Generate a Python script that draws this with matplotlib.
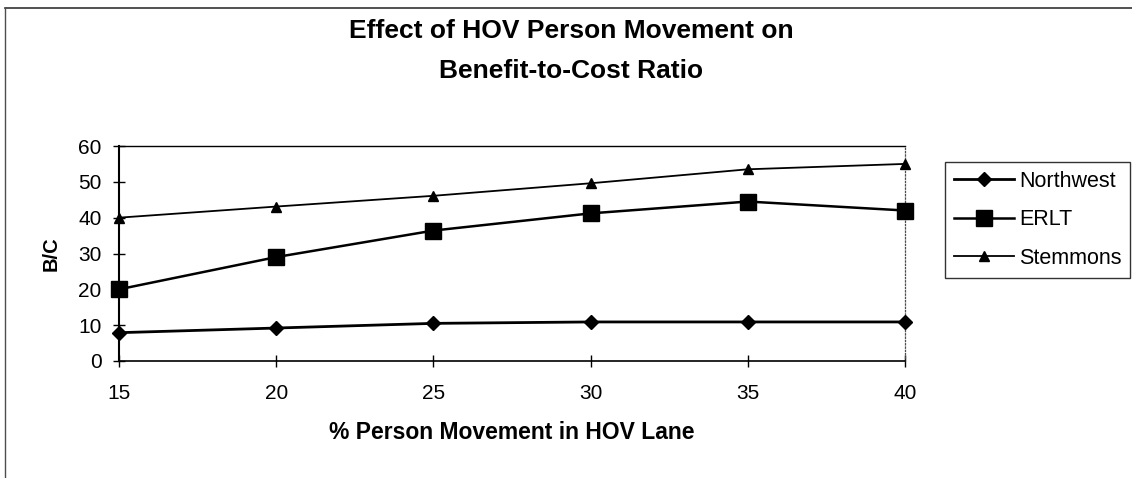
import matplotlib
matplotlib.use("Agg")
import matplotlib.pyplot as plt
from matplotlib.lines import Line2D

plt.rcParams["font.family"] = ["Liberation Sans", "DejaVu Sans"]

# ── data ────────────────────────────────────────────────────────────────
PCT_MOVEMENT = [15, 20, 25, 30, 35, 40]
NORTHWEST    = [7.9, 9.2, 10.5, 10.9, 10.9, 10.9]
ERLT         = [20.0, 29.0, 36.4, 41.2, 44.5, 42.0]
STEMMONS     = [40.0, 43.1, 46.1, 49.6, 53.5, 55.0]
Y_TICKS      = [0, 10, 20, 30, 40, 50, 60]

W, H = 1132, 478
fig = plt.figure(figsize=(W / 100, H / 100), dpi=100)
ax = fig.add_axes([119 / W, 1 - 361 / H, (905 - 119) / W, (361 - 146) / H])

ax.plot(PCT_MOVEMENT, NORTHWEST, color="black", lw=2.0, marker="D",
        markersize=7, label="Northwest", clip_on=False, zorder=3)
ax.plot(PCT_MOVEMENT, ERLT, color="black", lw=1.8, marker="s",
        markersize=11, label="ERLT", clip_on=False, zorder=3)
ax.plot(PCT_MOVEMENT, STEMMONS, color="black", lw=1.3, marker="^",
        markersize=7, label="Stemmons", clip_on=False, zorder=3)

ax.set_xlim(15, 40)
ax.set_ylim(0, 60)
ax.set_xticks(PCT_MOVEMENT)
ax.set_yticks(Y_TICKS)
ax.tick_params(axis="both", direction="inout", length=9, width=1,
               labelsize=15, colors="black")
ax.tick_params(axis="y", pad=8)
ax.tick_params(axis="x", pad=12)

ax.spines["left"].set_linewidth(1.5)
ax.spines["bottom"].set_linewidth(1.2)
ax.spines["top"].set_linewidth(1.0)
ax.spines["right"].set_linewidth(0.9)
ax.spines["right"].set_linestyle(":")
ax.spines["right"].set_color("0.3")

ax.set_xlabel("% Person Movement in HOV Lane", fontsize=16.5,
              fontweight="bold", labelpad=13)
ax.set_ylabel("B/C", fontsize=14.5, fontweight="bold", labelpad=13)

fig.text(571 / W, 1 - 38 / H, "Effect of HOV Person Movement on",
         ha="center", va="baseline", fontsize=19, fontweight="bold")
fig.text(571 / W, 1 - 78 / H, "Benefit-to-Cost Ratio",
         ha="center", va="baseline", fontsize=19, fontweight="bold")

leg = ax.legend(loc="upper left", bbox_to_anchor=(945 / W, 1 - 162 / H),
                bbox_transform=fig.transFigure, fontsize=15.5,
                frameon=True, fancybox=False, borderaxespad=0,
                borderpad=0.4, labelspacing=0.82, handlelength=2.8,
                handletextpad=0.25)
leg.get_frame().set_edgecolor("black")
leg.get_frame().set_linewidth(1.0)

# chart-area border (only top and left visible in reference)
fig.add_artist(Line2D([5 / W, 1], [1 - 8 / H, 1 - 8 / H],
                      transform=fig.transFigure, color="0.2", lw=1.2))
fig.add_artist(Line2D([5 / W, 5 / W], [0, 1 - 8 / H],
                      transform=fig.transFigure, color="0.3", lw=1.0))

fig.savefig("out.png", dpi=100)
